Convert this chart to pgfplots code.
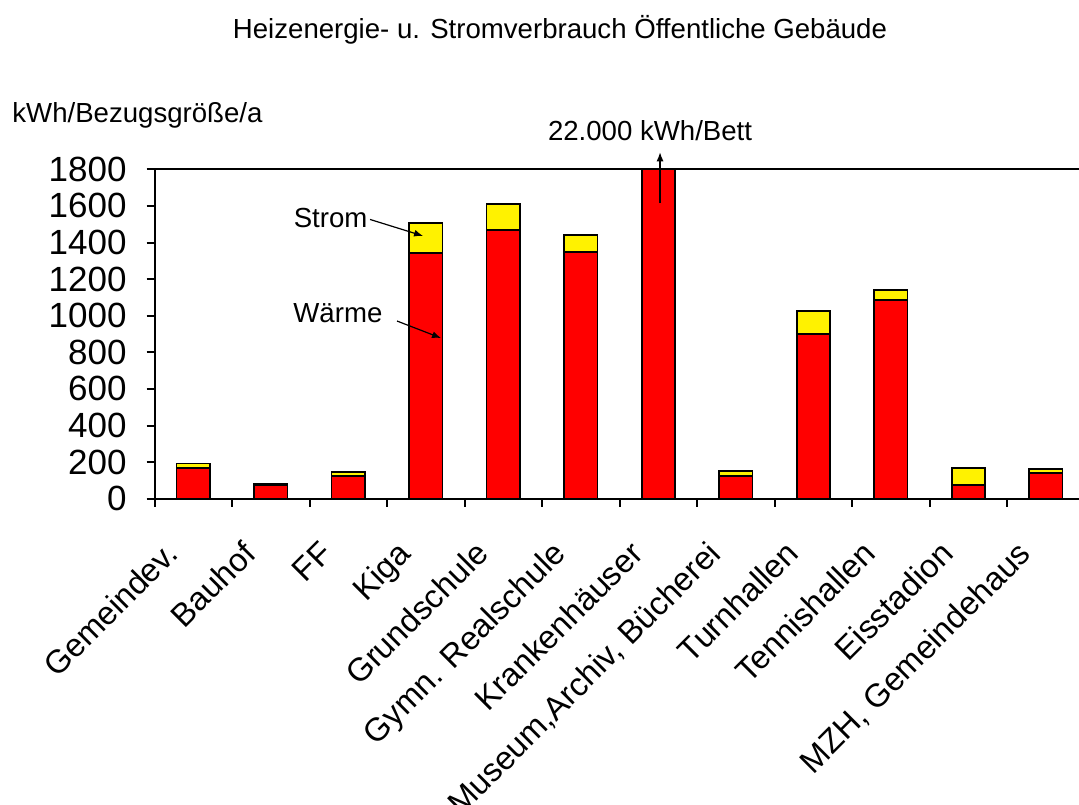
\documentclass[border=0pt]{standalone}
\usepackage{fontspec}
\setmainfont{Liberation Sans}
\usepackage{pgfplots}
\usepackage{pgfplotstable}
\pgfplotsset{compat=1.18}
\usetikzlibrary{arrows.meta}

% Waerme = red part, Strom = yellow part, kWh per reference unit and year
\pgfplotstableread{
x waerme strom
0  170  22
1  75   8
2  122  22
3  1341 167
4  1468 144
5  1348 95
6  1800 0
7  122  31
8  898  129
9  1086 54
10 75   94
11 142  20
}\verbrauch

\begin{document}
\begin{tikzpicture}
\useasboundingbox (0pt,0pt) rectangle (539.5pt,-402pt);
\clip (0pt,0pt) rectangle (539.5pt,-402pt);
\begin{axis}[
    at={(77.25pt,-249.35pt)}, anchor=south west,
    scale only axis,
    width=465pt, height=164.7pt,
    xmin=-0.5, xmax=11.5,
    ymin=0, ymax=1800,
    ybar stacked,
    bar width=0.43,
    clip=false,
    axis line style={line width=1pt},
    tick style={black, line width=1pt},
    tick align=outside,
    major tick length=4pt,
    xtick pos=bottom, ytick pos=left,
    xtick={-0.5,0.5,...,10.5},
    xticklabels={},
    extra x ticks={0,1,...,11},
    extra x tick labels={Gemeindev., Bauhof, FF, Kiga, Grundschule,
        Gymn. Realschule, Krankenhäuser, {Museum,Archiv, Bücherei},
        Turnhallen, Tennishallen, Eisstadion, {MZH, Gemeindehaus}},
    extra x tick style={major tick length=0pt,
        xticklabel style={xshift=-15pt, yshift=-20pt, rotate=45,
            anchor=north east, inner sep=0pt,
            font=\fontsize{16.3}{19}\selectfont}},
    ytick={0,200,...,1800},
    /pgf/number format/assume math mode=true,
    /pgf/number format/1000 sep={},
    yticklabel style={font=\fontsize{17.5}{21}\selectfont,
        inner sep=0pt, xshift=-9.75pt},
]
\addplot[fill=red, draw=black, line width=0.9pt]
    table[x=x, y=waerme] {\verbrauch};
\addplot[fill=yellow, draw=black, line width=0.9pt]
    table[x=x, y=strom] {\verbrauch};

\coordinate (stromtxt) at (axis cs:2.255,1534);
\coordinate (strom1) at (axis cs:2.281,1526);
\coordinate (strom2) at (axis cs:2.965,1436);
\coordinate (waermetxt) at (axis cs:2.448,1015);
\coordinate (waerme1) at (axis cs:2.629,971);
\coordinate (waerme2) at (axis cs:3.197,878);
\coordinate (betttxt) at (axis cs:5.894,2009);
\coordinate (bett1) at (axis cs:6.023,1615);
\coordinate (bett2) at (axis cs:6.023,1893);
\end{axis}

\begin{scope}[font=\fontsize{13.8}{16}\selectfont,
    every path/.style={-{Latex[length=4.5pt,width=3.5pt]}, line width=0.6pt}]
\node[anchor=east, inner sep=0pt] at (stromtxt) {Strom};
\draw (strom1) -- (strom2);
\node[anchor=east, inner sep=0pt] at (waermetxt) {Wärme};
\draw (waerme1) -- (waerme2);
\node[inner sep=0pt] at (betttxt) {22.000 kWh/Bett};
\draw (bett1) -- (bett2);
\end{scope}

\node[font=\fontsize{13.8}{16}\selectfont] at (280pt,-15pt)
    {Heizenergie- u. Stromverbrauch Öffentliche Gebäude};
\node[anchor=west, inner sep=0pt, font=\fontsize{13.8}{16}\selectfont]
    at (6pt,-57.5pt) {kWh/Bezugsgröße/a};
\end{tikzpicture}
\end{document}
